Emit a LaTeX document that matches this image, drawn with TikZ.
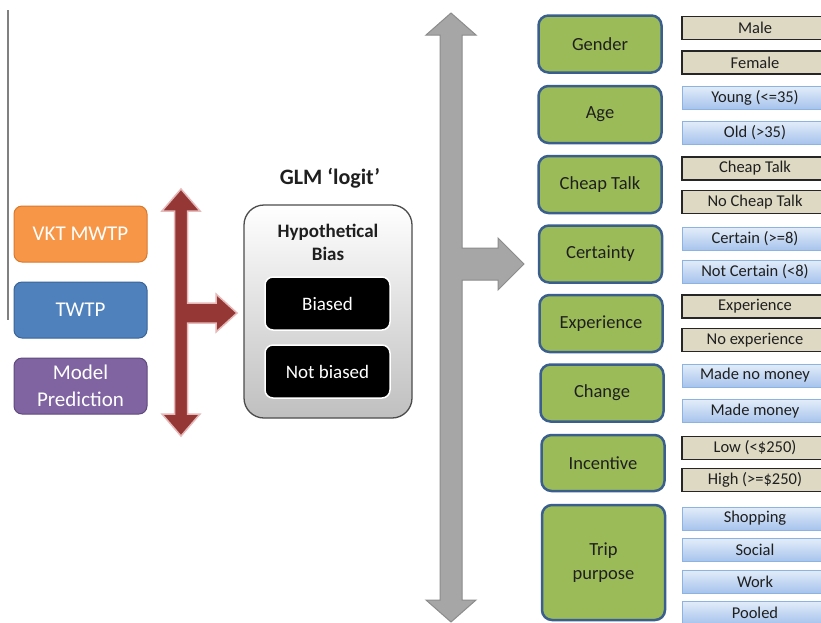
\documentclass[tikz,border=0pt]{standalone}
\usepackage{fontspec}
\setmainfont{Carlito}
\usetikzlibrary{shadings}
\definecolor{orfill}{HTML}{F79646}
\definecolor{ordraw}{HTML}{D9792E}
\definecolor{blfill}{HTML}{4F81BD}
\definecolor{bldraw}{HTML}{3A6496}
\definecolor{pufill}{HTML}{8064A2}
\definecolor{pudraw}{HTML}{5F4A7C}
\definecolor{grfill}{HTML}{9BBB59}
\definecolor{grdraw}{HTML}{3A5F8E}
\definecolor{tanfill}{HTML}{DDD9C3}
\definecolor{bluetop}{HTML}{E3EDF9}
\definecolor{bluebot}{HTML}{A6C3EC}
\definecolor{bluedraw}{HTML}{8DB3E2}
\definecolor{redfill}{HTML}{953735}
\definecolor{reddraw}{HTML}{E6B9B8}
\definecolor{grayfill}{HTML}{A6A6A6}
\definecolor{graydraw}{HTML}{8C8C8C}
\definecolor{txt}{HTML}{1F1F1F}
\begin{document}
\begin{tikzpicture}[x=1pt,y=-1pt,
  every node/.style={inner sep=0pt,outer sep=0pt},
  leftbox/.style={rounded corners=8pt,minimum width=133pt,minimum height=56pt,text=white,align=center,line width=1pt,font=\fontsize{21}{27}\selectfont},
  catbox/.style={rounded corners=10pt,fill=grfill,draw=grdraw,line width=2.5pt,minimum width=123pt,minimum height=57pt,text=txt,align=center,font=\fontsize{18.5}{24}\selectfont},
  tanbox/.style={fill=tanfill,draw=black!85,line width=1.2pt,minimum width=146pt,minimum height=23pt,text=txt,font=\fontsize{16.5}{20}\selectfont},
  bluebox/.style={top color=bluetop,bottom color=bluebot,draw=bluedraw,line width=1pt,minimum width=146pt,minimum height=23pt,text=txt,font=\fontsize{16.5}{20}\selectfont},
  blackbox/.style={rounded corners=8pt,fill=black,draw=white,line width=1.5pt,minimum width=125pt,minimum height=53pt,text=white,font=\fontsize{19}{23}\selectfont},
  blockarrow/.style={line width=1.5pt,line join=miter}
]
\useasboundingbox (0,0) rectangle (821,622);
\clip (0,0) rectangle (821,622);
\fill[white] (0,0) rectangle (821,622);

% thin left line
\draw[black!50,line width=1.5pt] (8,10) -- (8,320);

% left boxes
\node[leftbox,fill=orfill,draw=ordraw] (vkt) at (80.5,234) {VKT MWTP};
\node[leftbox,fill=blfill,draw=bldraw] (twtp) at (80.5,310) {TWTP};
\node[leftbox,fill=pufill,draw=pudraw] (model) at (80.5,386) {Model\\Prediction};

% red block arrow
\draw[blockarrow,fill=redfill,draw=reddraw]
  (181,189) -- (200,211) -- (187.5,211) -- (187.5,303) -- (216,303) -- (216,294)
  -- (237,313) -- (216,332) -- (216,323) -- (187.5,323) -- (187.5,414) -- (200,414)
  -- (181,436) -- (162,414) -- (174.5,414) -- (174.5,211) -- (162,211) -- cycle;

% central model box
\node[font=\bfseries\fontsize{22}{26}\selectfont,text=txt] (glm) at (330,178) {GLM ‘logit’};
\node[rounded corners=20pt,top color=white,bottom color=black!25,draw=black!70,line width=1.3pt,minimum width=168pt,minimum height=213pt] (hb) at (328,311.5) {};
\node[font=\bfseries\fontsize{19}{23}\selectfont,align=center,text=txt] (hbt) at (328,242) {Hypothetical\\Bias};
\node[blackbox] (biased) at (327.5,303.5) {Biased};
\node[blackbox] (notbiased) at (327.5,371.5) {Not biased};

% gray block arrow
\draw[line width=1pt,line join=miter,fill=grayfill,draw=graydraw]
  (451,13) -- (476,35) -- (462,35) -- (462,248) -- (498,248) -- (498,238)
  -- (524,264) -- (498,290) -- (498,280) -- (462,280) -- (462,600) -- (476,600)
  -- (451,622) -- (426,600) -- (440,600) -- (440,35) -- (426,35) -- cycle;

% category boxes
\node[catbox] (gender) at (600,44) {Gender};
\node[catbox] (age) at (600,114.5) {Age};
\node[catbox] (cheap) at (600,184.5) {Cheap Talk};
\node[catbox] (cert) at (600.5,254) {Certainty};
\node[catbox] (exp) at (601,323.5) {Experience};
\node[catbox] (change) at (602,393) {Change};
\node[catbox,minimum height=56pt] (inc) at (603,463) {Incentive};
\node[catbox,minimum height=115pt] (trip) at (603.5,562.5) {Trip\\purpose};

% level boxes
\node[tanbox] (male) at (755,28) {Male};
\node[tanbox] (female) at (755,62.5) {Female};
\node[bluebox] (young) at (755,97.5) {Young (<=35)};
\node[bluebox] (old) at (755,132.5) {Old (>35)};
\node[tanbox] (ct) at (755,168.5) {Cheap Talk};
\node[tanbox] (nct) at (755,202) {No Cheap Talk};
\node[bluebox] (certain) at (755,239) {Certain (>=8)};
\node[bluebox] (notcertain) at (755,271.5) {Not Certain (<8)};
\node[tanbox] (experience) at (755,306.5) {Experience};
\node[tanbox] (noexp) at (755,340) {No experience};
\node[bluebox] (nomoney) at (755,375.5) {Made no money};
\node[bluebox] (money) at (755,411) {Made money};
\node[tanbox] (low) at (755,448) {Low (<\$250)};
\node[tanbox] (high) at (755,480) {High (>=\$250)};
\node[bluebox] (shop) at (755,518.5) {Shopping};
\node[bluebox] (social) at (755,550) {Social};
\node[bluebox] (work) at (755,581.5) {Work};
\node[bluebox] (pooled) at (755,612.5) {Pooled};
\end{tikzpicture}
\end{document}
